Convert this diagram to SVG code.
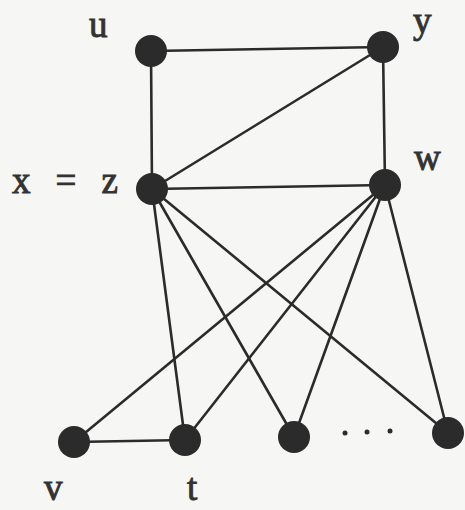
<svg xmlns="http://www.w3.org/2000/svg" width="465" height="510" viewBox="0 0 465 510">
  <style>
    .bg { fill: #f6f6f4; }
    .edge { stroke: #2b2b2b; stroke-width: 2.6; stroke-linecap: round; fill: none; }
    .node { fill: #2b2b2b; }
    .lbl { font-family: "Liberation Serif", "DejaVu Serif", serif; font-size: 37px; fill: #333; stroke: #333; stroke-width: 0.9; }
    .dot { fill: #2b2b2b; }
  </style>
  <rect class="bg" x="0" y="0" width="465" height="510"/>
  <g id="connectors">
    <line class="edge" x1="151" y1="51" x2="383" y2="47"/>
    <line class="edge" x1="151" y1="51" x2="152" y2="189"/>
    <line class="edge" x1="383" y1="47" x2="152" y2="189"/>
    <line class="edge" x1="383" y1="47" x2="385" y2="185"/>
    <line class="edge" x1="152" y1="189" x2="385" y2="185"/>
    <line class="edge" x1="152" y1="189" x2="185" y2="440"/>
    <line class="edge" x1="152" y1="189" x2="294" y2="437"/>
    <line class="edge" x1="152" y1="189" x2="448" y2="433"/>
    <line class="edge" x1="385" y1="185" x2="74" y2="442"/>
    <line class="edge" x1="385" y1="185" x2="185" y2="440"/>
    <line class="edge" x1="385" y1="185" x2="294" y2="437"/>
    <line class="edge" x1="385" y1="185" x2="448" y2="433"/>
    <line class="edge" x1="74" y1="442" x2="185" y2="440"/>
  </g>
  <g id="node-u"><circle class="node" cx="151" cy="51" r="16"/><text class="lbl" x="89" y="37">u</text></g>
  <g id="node-y"><circle class="node" cx="383" cy="47" r="16"/><text class="lbl" x="413" y="33">y</text></g>
  <g id="node-xz"><circle class="node" cx="152" cy="189" r="16"/><text class="lbl" x="12" y="193" textLength="106" lengthAdjust="spacing">x = z</text></g>
  <g id="node-w"><circle class="node" cx="385" cy="185" r="16"/><text class="lbl" x="414" y="170">w</text></g>
  <g id="node-v"><circle class="node" cx="74" cy="442" r="16"/><text class="lbl" x="44" y="500">v</text></g>
  <g id="node-t"><circle class="node" cx="185" cy="440" r="16"/><text class="lbl" x="187" y="500">t</text></g>
  <g id="node-a"><circle class="node" cx="294" cy="437" r="16"/></g>
  <g id="node-b"><circle class="node" cx="448" cy="433" r="16"/></g>
  <g id="ellipsis">
    <circle class="dot" cx="345" cy="433" r="2.5"/>
    <circle class="dot" cx="367" cy="432" r="2.5"/>
    <circle class="dot" cx="390" cy="431" r="2.5"/>
  </g>
</svg>
